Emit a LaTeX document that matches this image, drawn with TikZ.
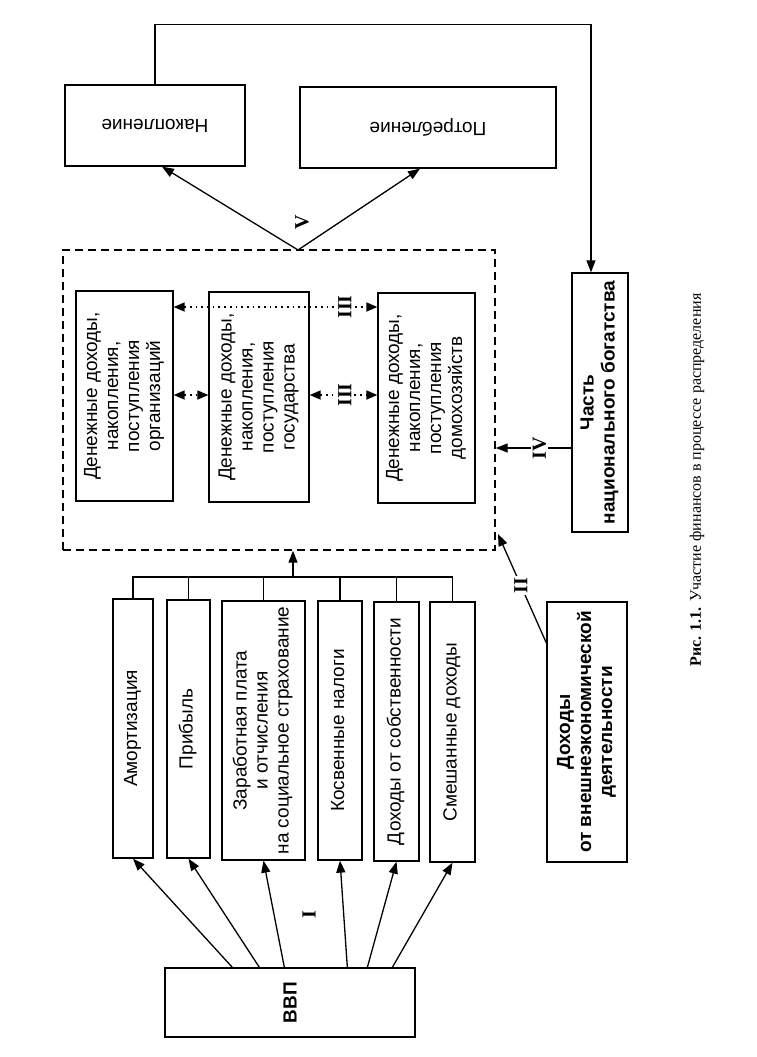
\documentclass[tikz,border=0pt]{standalone}
\usepackage{fontspec}
\setmainfont{Liberation Sans}
\newfontfamily\tms{Liberation Serif}
\usetikzlibrary{arrows.meta}
\newcommand\rtxt[1]{\rotatebox{90}{\begin{tabular}{@{}c@{}}#1\end{tabular}}}
\begin{document}
\begin{tikzpicture}[x=1pt,y=-1pt,
  box/.style={draw, line width=1.3pt, inner sep=0pt, font=\fontsize{19}{21}\selectfont},
  bbox/.style={box, font=\bfseries\fontsize{19}{21}\selectfont},
  arr/.style={-{Triangle[length=12pt,width=9pt]}, line width=1.3pt},
  darr/.style={{Triangle[length=11pt,width=9pt]}-{Triangle[length=11pt,width=9pt]}, line width=1.7pt, dash pattern=on 1.7pt off 4pt},
  lbl/.style={font=\tms\bfseries\fontsize{20}{20}\selectfont, rotate=90, inner sep=1.5pt},
  ln/.style={line width=1.3pt}]
\useasboundingbox (0,0) rectangle (756,1057);
% top boxes
\node[box, minimum width=180pt, minimum height=81pt] (nak) at (155,125.5) {\rotatebox{180}{Накопление}};
\node[box, minimum width=256pt, minimum height=81pt] (pot) at (428,127.5) {\rotatebox{180}{Потребление}};
% dashed frame
\node[draw, line width=1.4pt, dash pattern=on 8pt off 5pt, minimum width=432pt, minimum height=300pt, inner sep=0pt] (dash) at (279,400) {};
\node[box, minimum width=97pt, minimum height=210pt] (b1) at (124.5,396) {\rtxt{Денежные доходы,\\накопления,\\поступления\\организаций}};
\node[box, minimum width=100pt, minimum height=210pt] (b2) at (259,397) {\rtxt{Денежные доходы,\\накопления,\\поступления\\государства}};
\node[box, minimum width=97pt, minimum height=210pt] (b3) at (426.5,398) {\rtxt{Денежные доходы,\\накопления,\\поступления\\домохозяйств}};
% right boxes
\node[bbox, minimum width=56pt, minimum height=259pt] (ch) at (600,402.5) {\rtxt{Часть\\национального богатства}};
\node[bbox, minimum width=80pt, minimum height=260pt] (vd) at (587,732) {\rtxt{Доходы\\от внешнеэкономической\\деятельности}};
% income boxes
\node[box, minimum width=40pt, minimum height=259pt] (am) at (133,728.5) {\rtxt{Амортизация}};
\node[box, minimum width=43pt, minimum height=258pt] (pr) at (188.5,729) {\rtxt{Прибыль}};
\node[box, minimum width=83pt, minimum height=259pt] (zp) at (263.5,730.5) {\rtxt{Заработная плата\\и отчисления\\на социальное страхование}};
\node[box, minimum width=44pt, minimum height=259pt] (kn) at (340,730.5) {\rtxt{Косвенные налоги}};
\node[box, minimum width=45pt, minimum height=259pt] (ds) at (396.5,731.5) {\rtxt{Доходы от собственности}};
\node[box, minimum width=45pt, minimum height=260pt] (sm) at (452.5,732) {\rtxt{Смешанные доходы}};
\node[bbox, minimum width=250pt, minimum height=69pt] (vvp) at (290,1002.5) {\rotatebox{90}{ВВП}};
% V
\coordinate (vpt) at (298,250);
\draw[arr] (vpt) -- ([xshift=7pt]nak.south);
\draw[arr] (vpt) -- ([xshift=-8pt]pot.south);
\node[lbl] (lv) at (302,222) {V};
% top loop
\draw[arr] (nak.north) -- ++(0,-60) -| ([xshift=-9pt]ch.north);
% IV
\coordinate (riv) at (0,448);
\draw[arr] (ch.west |- riv) -- (dash.east |- riv) node[lbl, pos=0.42, fill=white] (liv) {IV};
% III
\coordinate (r1) at (0,307);
\coordinate (r2) at (0,395);
\draw[darr] (b1.east |- r1) -- (b3.west |- r1) node[lbl, pos=0.84, fill=white] (l3a) {III};
\draw[darr] (b1.east |- r2) -- (b2.west |- r2);
\draw[darr] (b2.east |- r2) -- (b3.west |- r2) node[lbl, pos=0.52, fill=white] (l3b) {III};
% II
\coordinate (iitip) at (498,534);
\draw[arr] ([yshift=89pt]vd.west) -- (iitip) node[lbl, pos=0.53, fill=white] (l2) {II};
% bus
\coordinate (bus) at (293,577);
\draw[ln] (am.north) |- (bus) -| (sm.north);
\draw[ln] (pr.north) -- (pr.north |- bus);
\draw[ln] (zp.north) -- (zp.north |- bus);
\draw[ln] (kn.north) -- (kn.north |- bus);
\draw[ln] (ds.north) -- (ds.north |- bus);
\draw[arr] (bus) -- (bus |- dash.south);
% I
\draw[arr] ([xshift=68pt]vvp.north west) -- (am.south);
\draw[arr] ([xshift=95pt]vvp.north west) -- (pr.south);
\draw[arr] ([xshift=120pt]vvp.north west) -- (zp.south);
\draw[arr] ([xshift=183pt]vvp.north west) -- (kn.south);
\draw[arr] ([xshift=203pt]vvp.north west) -- (ds.south);
\draw[arr] ([xshift=228pt]vvp.north west) -- (sm.south);
\node[lbl] (l1) at (309,915) {I};
% caption
\node[rotate=90, font=\tms\fontsize{16}{16}\selectfont, inner sep=0pt] (cap) at (697,480) {\textbf{Рис. 1.1.} Участие финансов в процессе распределения};
\end{tikzpicture}
\end{document}
